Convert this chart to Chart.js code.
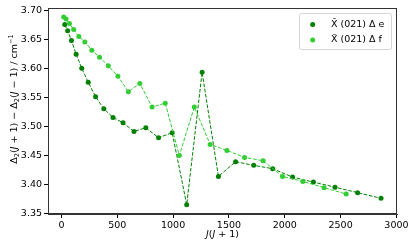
<!DOCTYPE html>
<html>
<head>
<meta charset="utf-8">
<script src="https://cdn.jsdelivr.net/npm/chart.js@4/dist/chart.umd.min.js"></script>
<style>
html, body { margin: 0; padding: 0; background: #fff; }
</style>
</head>
<body>
<canvas id="deltaChart" width="415" height="249"></canvas>
<script>
// J(J+1) values and Delta2 differences
const jjE = [30, 56, 90, 132, 182, 240, 306, 380, 462, 552, 650, 756, 870, 992, 1122, 1260,
  1406, 1560, 1722, 1892, 2070, 2256, 2450, 2652, 2862];
const deltaE = [3.6759, 3.6651, 3.6484, 3.6248, 3.6007, 3.5766, 3.5515, 3.5308, 3.5158, 3.5067,
  3.4918, 3.4981, 3.4809, 3.4895, 3.3656, 3.5938, 3.4143, 3.4396, 3.4333, 3.4276, 3.4131,
  3.4045, 3.3957, 3.3863, 3.3765];

const jjF = [20, 42, 72, 110, 156, 210, 272, 342, 420, 506, 600, 702, 812, 930, 1056, 1190,
  1332, 1482, 1640, 1806, 1980, 2162, 2352, 2550];
const deltaF = [3.6892, 3.6857, 3.6776, 3.6673, 3.6553, 3.6461, 3.6317, 3.6196, 3.6048, 3.5869,
  3.5603, 3.5744, 3.5339, 3.5405, 3.4505, 3.5339, 3.4694, 3.4591, 3.4470, 3.4413, 3.4143,
  3.4057, 3.3949, 3.3838];

const xTicks = [0, 500, 1000, 1500, 2000, 2500, 3000];
const yTicks = [3.35, 3.40, 3.45, 3.50, 3.55, 3.60, 3.65, 3.70];

const seriesLabels = ['X\u0303 (021) \u0394 e', 'X\u0303 (021) \u0394 f'];
const seriesColors = ['#008000', '#32cd32'];

const FONT = 'DejaVu Sans';
const FS = 9.5;

function toPoints(xs, ys) {
  return xs.map((x, i) => ({ x: x, y: ys[i] }));
}

// draw text with italic / sub / superscript pieces, centred on 0,0
function drawRich(ctx, segs, size) {
  const parts = segs.map(s => {
    const fs = (s.sub || s.sup) ? size * 0.7 : size;
    const font = (s.it ? 'italic ' : '') + fs + 'px "' + FONT + '"';
    ctx.font = font;
    return { t: s.t, font: font, w: ctx.measureText(s.t).width,
      dy: s.sub ? size * 0.25 : (s.sup ? -size * 0.4 : 0) };
  });
  const total = parts.reduce((a, p) => a + p.w, 0);
  let x = -total / 2;
  ctx.textBaseline = 'middle';
  ctx.textAlign = 'left';
  ctx.fillStyle = '#000';
  parts.forEach(p => {
    ctx.font = p.font;
    ctx.fillText(p.t, x, p.dy);
    x += p.w;
  });
}

const framePlugin = {
  id: 'frame',
  afterDraw(chart) {
    const ctx = chart.ctx;
    const a = chart.chartArea;
    ctx.save();
    // box round the axes
    ctx.strokeStyle = '#333';
    ctx.lineWidth = 1;
    ctx.strokeRect(a.left + 0.5, a.top + 0.5, a.right - a.left - 1, a.bottom - a.top - 1);

    // axis titles
    ctx.save();
    ctx.translate((a.left + a.right) / 2, 235);
    drawRich(ctx, [{ t: 'J', it: 1 }, { t: '(' }, { t: 'J', it: 1 }, { t: ' + 1)' }], FS);
    ctx.restore();

    ctx.save();
    ctx.translate(15, 99);
    ctx.rotate(-Math.PI / 2);
    drawRich(ctx, [
      { t: '\u0394' }, { t: '2', sub: 1 }, { t: '(' }, { t: 'J', it: 1 }, { t: ' + 1) \u2212 \u0394' },
      { t: '2', sub: 1 }, { t: '(' }, { t: 'J', it: 1 }, { t: ' \u2212 1) / cm' }, { t: '\u22121', sup: 1 }
    ], FS);
    ctx.restore();

    // legend
    const lx = 299.5, ly = 13.5, lw = 92, lh = 36;
    ctx.beginPath();
    ctx.roundRect(lx, ly, lw, lh, 2);
    ctx.fillStyle = 'rgba(255,255,255,0.8)';
    ctx.fill();
    ctx.strokeStyle = '#d5d5d5';
    ctx.stroke();
    chart.data.datasets.forEach((ds, i) => {
      const y = 24.5 + i * 15.5;
      ctx.beginPath();
      ctx.arc(312.7, y, 2.5, 0, Math.PI * 2);
      ctx.fillStyle = ds.borderColor;
      ctx.fill();
      ctx.fillStyle = '#000';
      ctx.font = FS + 'px "' + FONT + '"';
      ctx.textAlign = 'left';
      ctx.textBaseline = 'middle';
      ctx.fillText(ds.label, 331, y);
    });
    ctx.restore();
  }
};

const tickFont = { family: FONT, size: FS };

new Chart(document.getElementById('deltaChart'), {
  type: 'line',
  data: {
    datasets: [
      {
        label: seriesLabels[0],
        data: toPoints(jjE, deltaE),
        borderColor: seriesColors[0],
        backgroundColor: seriesColors[0],
        borderWidth: 1,
        borderDash: [3.7, 1.6],
        pointRadius: 2.5,
        pointBorderWidth: 0,
        tension: 0,
        order: 2
      },
      {
        label: seriesLabels[1],
        data: toPoints(jjF, deltaF),
        borderColor: seriesColors[1],
        backgroundColor: seriesColors[1],
        borderWidth: 1,
        borderDash: [3.7, 1.6],
        pointRadius: 2.5,
        pointBorderWidth: 0,
        tension: 0,
        order: 1
      }
    ]
  },
  options: {
    responsive: false,
    animation: false,
    layout: { padding: { top: 8, right: 18, left: 0, bottom: 0 } },
    plugins: {
      legend: { display: false },
      tooltip: { enabled: false }
    },
    scales: {
      x: {
        type: 'linear',
        min: -120,
        max: 3005,
        afterBuildTicks(s) { s.ticks = xTicks.map(v => ({ value: v })); },
        afterFit(s) { s.height = 35; },
        border: { color: '#333' },
        grid: { drawOnChartArea: false, tickLength: 4, tickColor: '#000' },
        ticks: {
          autoSkip: false,
          color: '#000',
          font: tickFont,
          padding: 2,
          maxRotation: 0,
          callback: v => String(v)
        }
      },
      y: {
        type: 'linear',
        min: 3.3495,
        max: 3.7045,
        afterBuildTicks(s) { s.ticks = yTicks.map(v => ({ value: v })); },
        afterFit(s) { s.width = 48; },
        border: { color: '#333' },
        grid: { drawOnChartArea: false, tickLength: 4, tickColor: '#000' },
        ticks: {
          autoSkip: false,
          color: '#000',
          font: tickFont,
          padding: 2,
          callback: v => v.toFixed(2)
        }
      }
    }
  },
  plugins: [framePlugin]
});
</script>
</body>
</html>
